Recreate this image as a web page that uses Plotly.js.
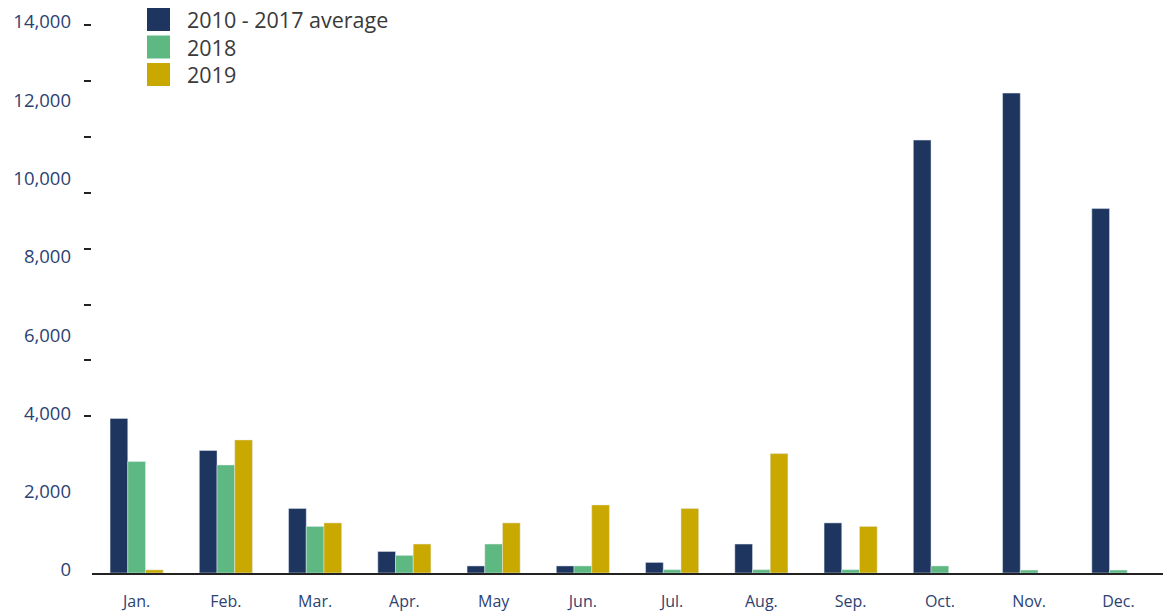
<!DOCTYPE html>
<html>
<head>
<meta charset="utf-8">
<script src="https://cdn.plot.ly/plotly-3.0.1.min.js"></script>
<style>html,body{margin:0;padding:0;background:#fff;}#chart{width:1172px;height:613px;}</style>
</head>
<body>
<div id="chart"></div>
<script>
// ---- data ----
const months = ["Jan.", "Feb.", "Mar.", "Apr.", "May", "Jun.", "Jul.", "Aug.", "Sep.", "Oct.", "Nov.", "Dec."];
const seriesNames = ["2010 - 2017 average", "2018", "2019"];
const avg2010_2017 = [3950, 3130, 1650, 550, 180, 180, 270, 740, 1280, 11060, 12260, 9310];
const values2018   = [2850, 2760, 1190, 450, 740, 180, 85, 85, 85, 180, 75, 75];
const values2019   = [80, 3400, 1280, 740, 1280, 1740, 1650, 3050, 1190, null, null, null];
const yTickVals = [0, 2000, 4000, 6000, 8000, 10000, 12000, 14000];
const dashTickVals = [4000, 5429, 6857, 8286, 9714, 11143, 12571, 14000];

// ---- style ----
const colors = ["#1e3560", "#5db882", "#c9a900"];
const W = 1172, H = 613;
const M = {l: 92, r: 9, t: 25, b: 40};
const PW = W - M.l - M.r, PH = H - M.t - M.b;
const FONT = "Open Sans, Liberation Sans, sans-serif";
const navyText = "#2c4272";

const seriesVals = [avg2010_2017, values2018, values2019];
const traces = seriesVals.map((v, i) => ({
  type: "bar",
  x: months,
  y: v,
  name: seriesNames[i],
  marker: {color: colors[i], line: {color: "rgba(230,235,245,0.8)", width: 0.6}},
  showlegend: false,
  hoverinfo: "x+y+name"
}));
// dummy trace to bind the dash axis
traces.push({type: "scatter", x: [months[0]], y: [null], yaxis: "y2", showlegend: false, hoverinfo: "skip", mode: "markers"});

// custom legend (large squares)
const px2x = p => (p - M.l) / PW;
const py2y = p => (H - M.b - p) / PH;
const shapes = [], annotations = [];
seriesNames.forEach((n, i) => {
  const top = 8 + i * 27.5;
  shapes.push({type: "rect", xref: "paper", yref: "paper",
    x0: px2x(147), x1: px2x(170), y0: py2y(top + 23), y1: py2y(top),
    fillcolor: colors[i], line: {width: 0}});
  annotations.push({xref: "paper", yref: "paper", x: px2x(185), y: py2y(top + 11.5),
    xanchor: "left", yanchor: "middle", showarrow: false, text: n,
    font: {family: FONT, size: 21.5, color: "#3a3a3a"}});
});

const layout = {
  width: W, height: H,
  margin: M,
  paper_bgcolor: "#ffffff", plot_bgcolor: "#ffffff",
  barmode: "group", bargap: 0.405, bargroupgap: 0,
  showlegend: false,
  xaxis: {
    type: "category",
    range: [-0.5, 11.5],
    automargin: false,
    showline: true, linecolor: "#222222", linewidth: 2,
    ticks: "", showgrid: false, zeroline: false,
    tickfont: {family: FONT, size: 16, color: navyText},
    ticklabelstandoff: 13
  },
  yaxis: {
    range: [0, 14000],
    automargin: false,
    tickvals: yTickVals,
    tickformat: ",",
    ticks: "", showgrid: false, zeroline: false, showline: false,
    tickfont: {family: FONT, size: 18.5, color: navyText},
    ticklabelstandoff: 20,
    ticklabelshift: -3
  },
  yaxis2: {
    overlaying: "y", side: "left", anchor: "x",
    automargin: false,
    range: [0, 14000],
    tickvals: dashTickVals,
    showticklabels: false,
    ticks: "outside", ticklen: 7, tickwidth: 2, tickcolor: "#222222",
    showgrid: false, zeroline: false, showline: false
  },
  shapes: shapes,
  annotations: annotations
};

Plotly.newPlot("chart", traces, layout, {displayModeBar: false, staticPlot: true});
</script>
</body>
</html>
